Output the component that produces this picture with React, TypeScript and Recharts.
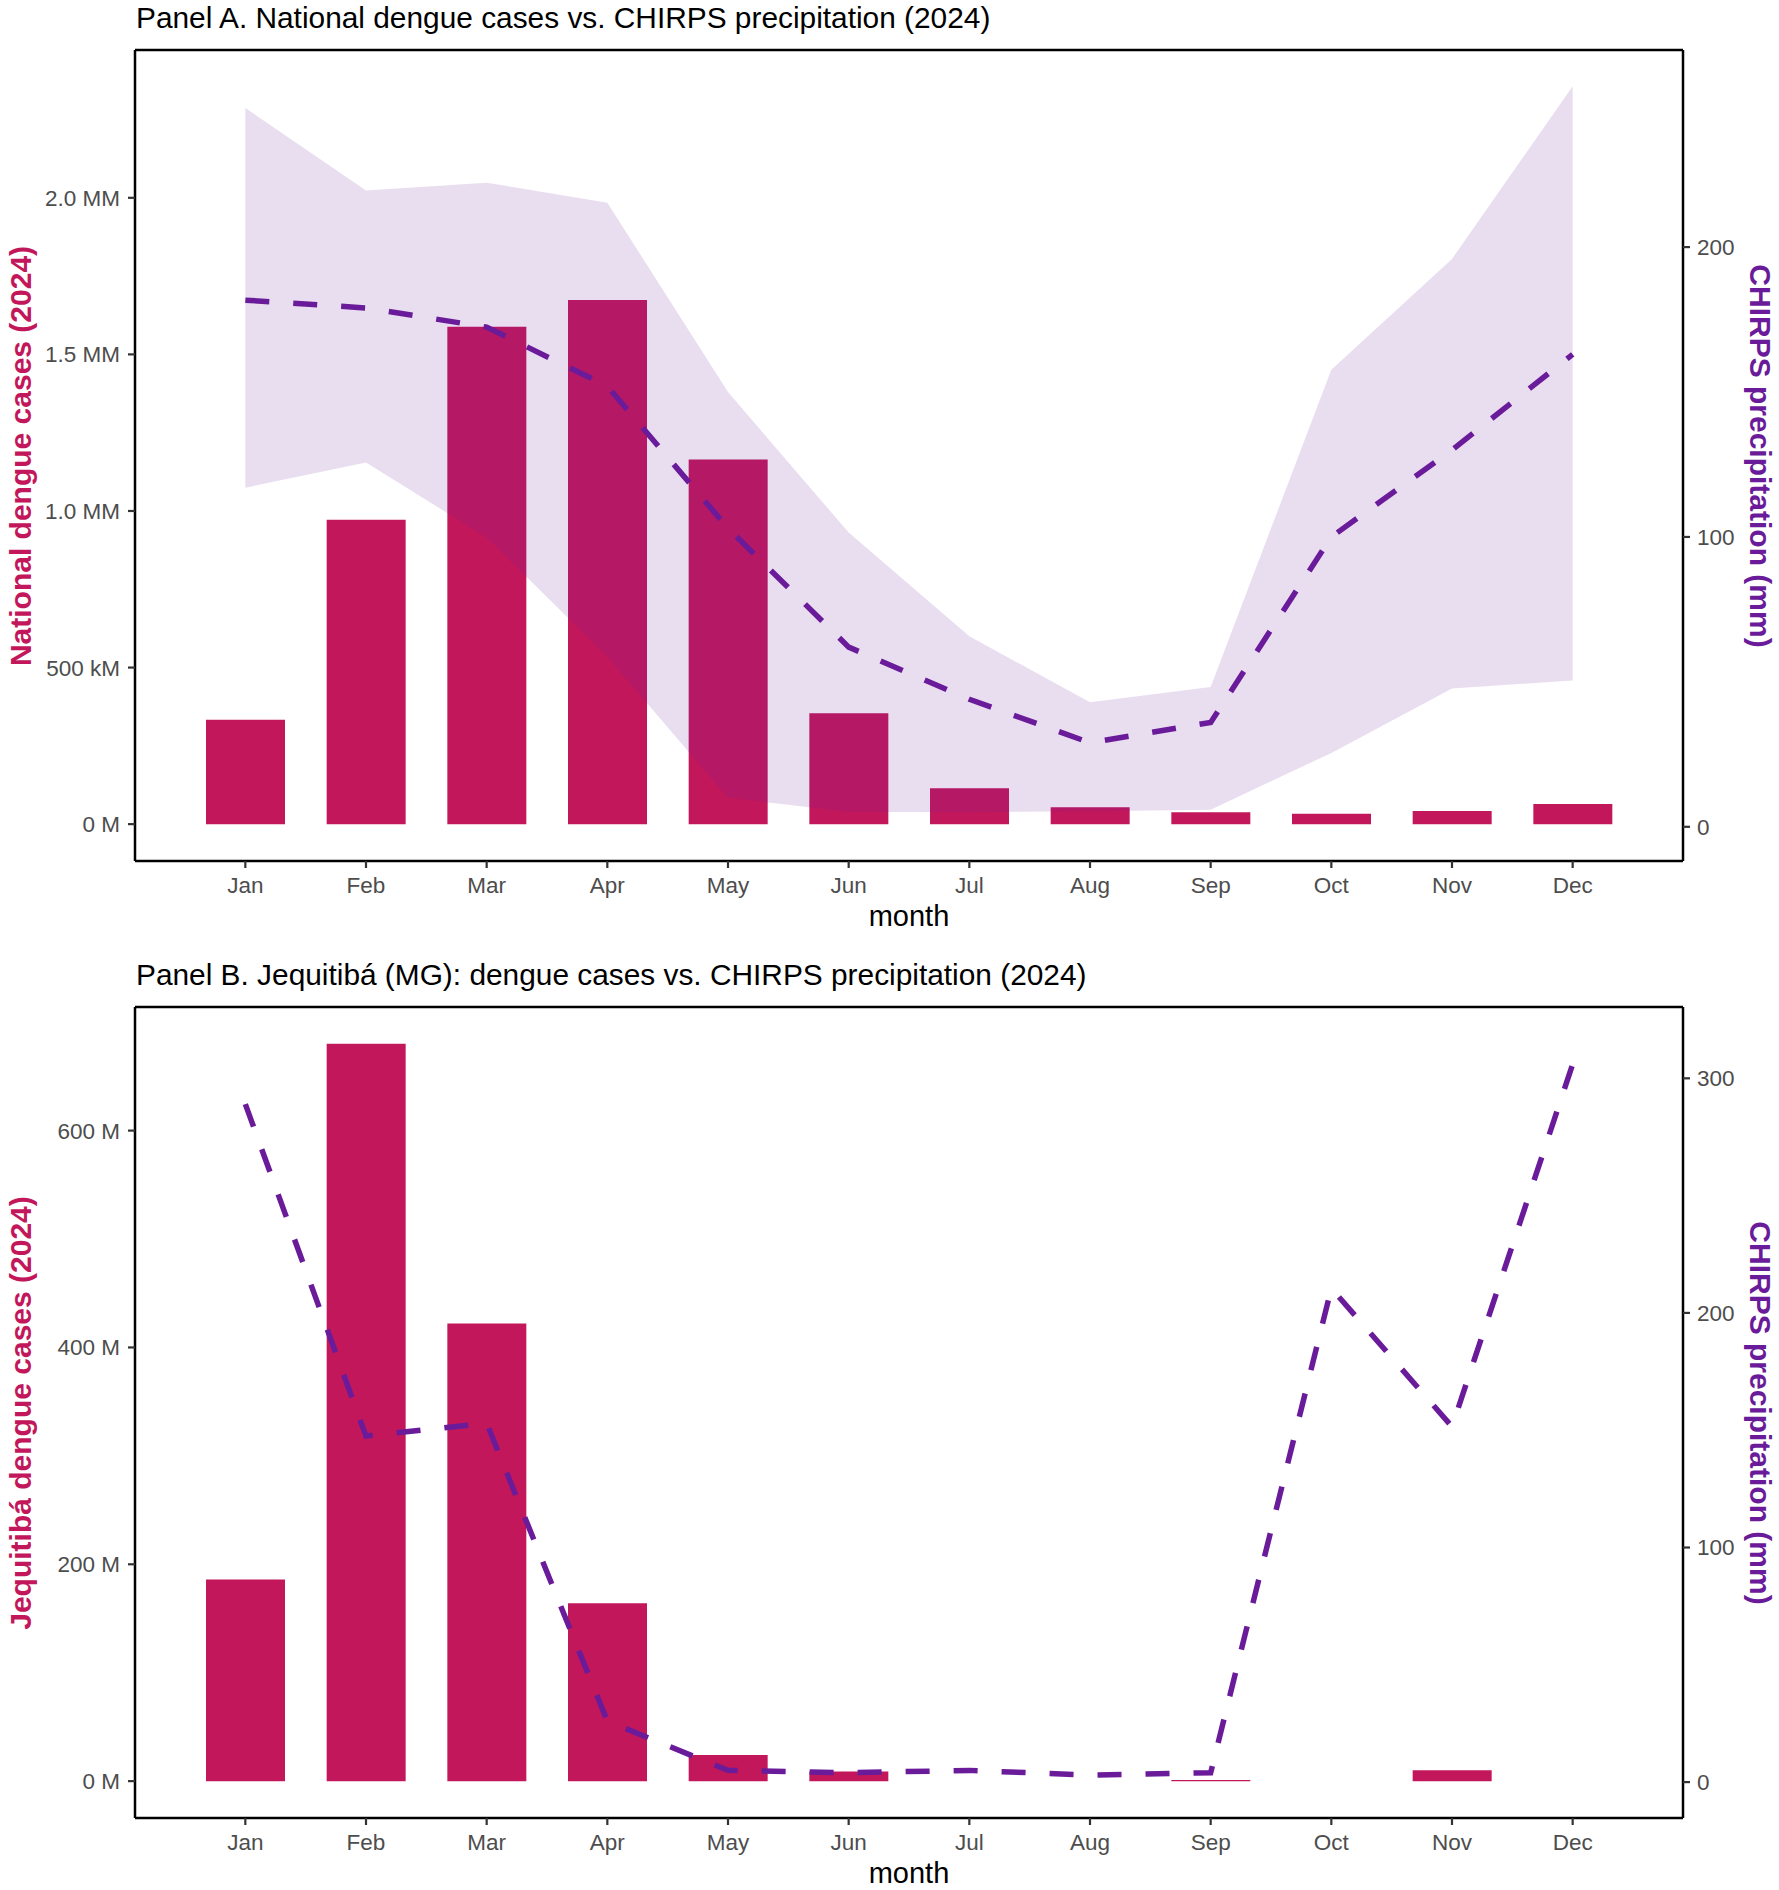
import React from "react";
import {
  ComposedChart,
  Bar,
  Line,
  Area,
  XAxis,
  YAxis,
  ReferenceLine,
} from "recharts";

const MONTHS = ["Jan", "Feb", "Mar", "Apr", "May", "Jun", "Jul", "Aug", "Sep", "Oct", "Nov", "Dec"];

// Panel A - national
const NATIONAL_CASES = [333000, 972000, 1588000, 1674000, 1164000, 354000, 115000, 54000, 38000, 33000, 42000, 64000];
const NATIONAL_PRECIP = [181.7, 179, 172.4, 152, 103, 62, 44, 29, 36, 100, 130, 163];
const NATIONAL_PRECIP_LOW = [117, 125.7, 99.8, 58.7, 10, 5.2, 5, 5.4, 5.9, 25.5, 47.7, 50.5];
const NATIONAL_PRECIP_HIGH = [248, 219.5, 222.2, 215.3, 150, 101.5, 65.7, 43, 48.2, 157.7, 195.9, 255.5];

const A_LEFT_DOMAIN = [-117700, 2472000];
const A_RIGHT_DOMAIN = [-11.8, 268];
const A_LEFT_TICKS = [0, 500000, 1000000, 1500000, 2000000];
const A_LEFT_LABELS = ["0 M", "500 kM", "1.0 MM", "1.5 MM", "2.0 MM"];
const A_RIGHT_TICKS = [0, 100, 200];

// Panel B - Jequitibá
const JEQ_CASES = [186, 680, 422, 164, 24, 9, 0, 0, 1, 0, 10, 0];
const JEQ_PRECIP = [289, 147.5, 153, 26, 5, 4, 5, 3, 4, 210.5, 151.5, 306];

const B_LEFT_DOMAIN = [-34, 714];
const B_RIGHT_DOMAIN = [-15.3, 330.4];
const B_LEFT_TICKS = [0, 200, 400, 600];
const B_LEFT_LABELS = ["0 M", "200 M", "400 M", "600 M"];
const B_RIGHT_TICKS = [0, 100, 200, 300];

const BAR_COLOR = "#C2185B";
const LINE_COLOR = "#6A1B9A";
const FONT = '"Liberation Sans", Arial, Helvetica, sans-serif';

const CHART_W = 1779;
const CHART_H = 940;
const MARGIN = { top: 50, right: 0, bottom: 0, left: 0 };

const nationalRows = MONTHS.map((month, i) => ({
  month,
  cases: NATIONAL_CASES[i],
  precip: NATIONAL_PRECIP[i],
  band: [NATIONAL_PRECIP_LOW[i], NATIONAL_PRECIP_HIGH[i]],
}));

const jeqRows = MONTHS.map((month, i) => ({
  month,
  cases: JEQ_CASES[i],
  precip: JEQ_PRECIP[i],
}));

const tickText = { fill: "#4D4D4D", fontSize: 22.5, fontFamily: FONT };
const axisLine = { stroke: "#000", strokeWidth: 2.5 };
const tickLine = { stroke: "#333", strokeWidth: 2.2 };

interface PanelProps {
  top: number;
  title: string;
  leftTitle: string;
  rows: any[];
  leftDomain: number[];
  rightDomain: number[];
  leftTicks: number[];
  leftLabels: string[];
  rightTicks: number[];
  band?: boolean;
}

const Panel = ({
  top,
  title,
  leftTitle,
  rows,
  leftDomain,
  rightDomain,
  leftTicks,
  leftLabels,
  rightTicks,
  band,
}: PanelProps) => (
  <div style={{ position: "absolute", left: 0, top, width: CHART_W, height: CHART_H }}>
    <div
      style={{
        position: "absolute",
        left: 136,
        top: 3.3,
        fontSize: 29.85,
        lineHeight: 1,
        whiteSpace: "nowrap",
        color: "#000",
        fontFamily: FONT,
      }}
    >
      {title}
    </div>

    {/* bars + axes */}
    <div style={{ position: "absolute", left: 0, top: 0 }}>
      <ComposedChart width={CHART_W} height={CHART_H} data={rows} margin={MARGIN}>
        <XAxis
          dataKey="month"
          scale="band"
          height={79}
          padding={{ left: 50, right: 50 }}
          interval={0}
          tickSize={7}
          tickMargin={9}
          axisLine={axisLine}
          tickLine={tickLine}
          tick={tickText}
        />
        <YAxis
          yAxisId="left"
          orientation="left"
          width={135}
          domain={leftDomain}
          allowDataOverflow
          ticks={leftTicks}
          interval={0}
          tickSize={7}
          tickMargin={8}
          axisLine={axisLine}
          tickLine={tickLine}
          tick={tickText}
          tickFormatter={(v) => leftLabels[leftTicks.indexOf(v)]}
        />
        <YAxis
          yAxisId="right"
          orientation="right"
          width={96}
          domain={rightDomain}
          allowDataOverflow
          ticks={rightTicks}
          interval={0}
          tickSize={7}
          tickMargin={7}
          axisLine={axisLine}
          tickLine={tickLine}
          tick={tickText}
        />
        <Bar yAxisId="left" dataKey="cases" fill={BAR_COLOR} barSize={79} isAnimationActive={false} />
        <ReferenceLine yAxisId="left" y={leftDomain[1]} stroke="#000" strokeWidth={2.5} />
      </ComposedChart>
    </div>

    {/* ribbon + line drawn over the bars, same geometry */}
    <div style={{ position: "absolute", left: 0, top: 0, pointerEvents: "none" }}>
      <ComposedChart width={CHART_W} height={CHART_H} data={rows} margin={MARGIN}>
        <XAxis
          dataKey="month"
          scale="band"
          height={79}
          padding={{ left: 50, right: 50 }}
          interval={0}
          axisLine={false}
          tickLine={false}
          tick={false}
        />
        <YAxis
          yAxisId="left"
          orientation="left"
          width={135}
          domain={leftDomain}
          allowDataOverflow
          axisLine={false}
          tickLine={false}
          tick={false}
        />
        <YAxis
          yAxisId="right"
          orientation="right"
          width={96}
          domain={rightDomain}
          allowDataOverflow
          axisLine={false}
          tickLine={false}
          tick={false}
        />
        {band && (
          <Area
            yAxisId="right"
            dataKey="band"
            type="linear"
            stroke="none"
            fill={LINE_COLOR}
            fillOpacity={0.15}
            dot={false}
            activeDot={false}
            isAnimationActive={false}
          />
        )}
        <Line
          yAxisId="right"
          dataKey="precip"
          type="linear"
          stroke={LINE_COLOR}
          strokeWidth={5.5}
          strokeDasharray="24 24"
          dot={false}
          activeDot={false}
          isAnimationActive={false}
        />
      </ComposedChart>
    </div>

    {/* axis titles */}
    <div
      style={{
        position: "absolute",
        left: 709,
        top: 901.5,
        width: 400,
        textAlign: "center",
        fontSize: 29,
        lineHeight: 1,
        color: "#000",
        fontFamily: FONT,
      }}
    >
      month
    </div>
    <div
      style={{
        position: "absolute",
        left: 21 - 300,
        top: 455.5 - 15,
        width: 600,
        height: 30,
        lineHeight: "30px",
        textAlign: "center",
        fontSize: 30,
        fontWeight: "bold",
        color: BAR_COLOR,
        fontFamily: FONT,
        transform: "rotate(-90deg)",
        transformOrigin: "center",
        whiteSpace: "nowrap",
      }}
    >
      {leftTitle}
    </div>
    <div
      style={{
        position: "absolute",
        left: 1760 - 300,
        top: 455.5 - 15,
        width: 600,
        height: 30,
        lineHeight: "30px",
        textAlign: "center",
        fontSize: 30,
        fontWeight: "bold",
        color: LINE_COLOR,
        fontFamily: FONT,
        transform: "rotate(90deg)",
        transformOrigin: "center",
        whiteSpace: "nowrap",
      }}
    >
      CHIRPS precipitation (mm)
    </div>
  </div>
);

export default function App() {
  return (
    <div
      style={{
        position: "absolute",
        left: 0,
        top: 0,
        width: CHART_W,
        height: 1890,
        background: "#fff",
        overflow: "hidden",
      }}
    >
      <Panel
        top={0}
        title="Panel A. National dengue cases vs. CHIRPS precipitation (2024)"
        leftTitle="National dengue cases (2024)"
        rows={nationalRows}
        leftDomain={A_LEFT_DOMAIN}
        rightDomain={A_RIGHT_DOMAIN}
        leftTicks={A_LEFT_TICKS}
        leftLabels={A_LEFT_LABELS}
        rightTicks={A_RIGHT_TICKS}
        band
      />
      <Panel
        top={957}
        title="Panel B. Jequitibá (MG): dengue cases vs. CHIRPS precipitation (2024)"
        leftTitle="Jequitibá dengue cases (2024)"
        rows={jeqRows}
        leftDomain={B_LEFT_DOMAIN}
        rightDomain={B_RIGHT_DOMAIN}
        leftTicks={B_LEFT_TICKS}
        leftLabels={B_LEFT_LABELS}
        rightTicks={B_RIGHT_TICKS}
      />
    </div>
  );
}
